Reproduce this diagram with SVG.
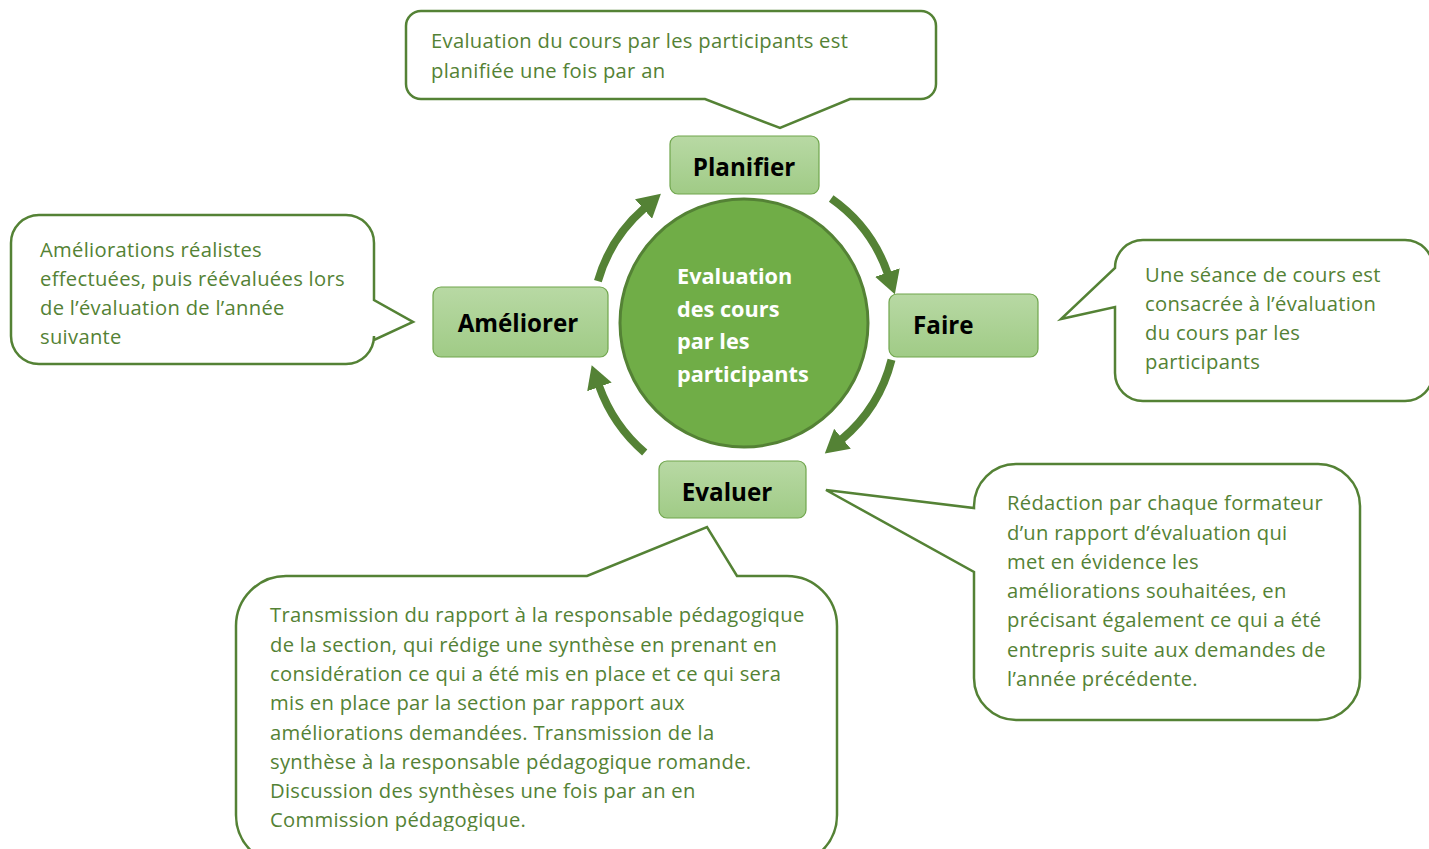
<svg xmlns="http://www.w3.org/2000/svg" width="1429" height="849" viewBox="0 0 1429 849">
<defs>
<linearGradient id="boxg" x1="0" y1="0" x2="0" y2="1">
<stop offset="0" stop-color="#b8d9a4"/>
<stop offset="1" stop-color="#a0cb86"/>
</linearGradient>
<marker id="ah" markerUnits="userSpaceOnUse" markerWidth="24" markerHeight="26" viewBox="0 0 24 26" refX="1" refY="13" orient="auto">
<path d="M0,0 L23,13 L0,26 z" fill="#548235"/>
</marker>
<clipPath id="bclip"><rect x="0" y="0" width="1429" height="831"/></clipPath>
</defs>
<style>
.callout{fill:#ffffff;stroke:#548235;stroke-width:2.5;stroke-linejoin:miter}
.ct{font-family:"Open Sans","Noto Sans",sans-serif;font-size:20.2px;letter-spacing:0.3px;fill:#548235}
.box{fill:url(#boxg);stroke:#70a64d;stroke-width:1.2}
.lbl{font-family:"Open Sans","Noto Sans",sans-serif;font-size:24.2px;font-weight:bold;fill:#000000}
.circt{font-family:"Open Sans","Noto Sans",sans-serif;font-size:21.7px;font-weight:bold;fill:#ffffff}
.arc{fill:none;stroke:#548235;stroke-width:8;marker-end:url(#ah)}
</style>
<rect width="1429" height="849" fill="#ffffff"/>

<g id="callout-planifier">
<path class="callout" d="M421,11 H921 A15,15 0 0 1 936,26 V84 A15,15 0 0 1 921,99 H850 L780,128 L705,99 H421 A15,15 0 0 1 406,84 V26 A15,15 0 0 1 421,11 Z"/>
<text class="ct" x="431" y="48">Evaluation du cours par les participants est</text>
<text class="ct" x="431" y="78">planifiée une fois par an</text>
</g>

<g id="callout-ameliorer">
<path class="callout" d="M39,215 H346 A28,28 0 0 1 374,243 V300 L413,322 L374,340 V336 A28,28 0 0 1 346,364 H39 A28,28 0 0 1 11,336 V243 A28,28 0 0 1 39,215 Z"/>
<text class="ct" x="40" y="257">Améliorations réalistes</text>
<text class="ct" x="40" y="286">effectuées, puis réévaluées lors</text>
<text class="ct" x="40" y="315">de l’évaluation de l’année</text>
<text class="ct" x="40" y="344">suivante</text>
</g>

<g id="callout-faire">
<path class="callout" d="M1143,240 H1405 A28,28 0 0 1 1433,268 V373 A28,28 0 0 1 1405,401 H1143 A28,28 0 0 1 1115,373 V307 L1061,319 L1115,268 A28,28 0 0 1 1143,240 Z"/>
<text class="ct" x="1145" y="282">Une séance de cours est</text>
<text class="ct" x="1145" y="311">consacrée à l’évaluation</text>
<text class="ct" x="1145" y="340">du cours par les</text>
<text class="ct" x="1145" y="369">participants</text>
</g>

<g id="callout-evaluer-redaction">
<path class="callout" d="M1016,464 H1318 A42,42 0 0 1 1360,506 V678 A42,42 0 0 1 1318,720 H1016 A42,42 0 0 1 974,678 V572 L826,490 L974,508 V506 A42,42 0 0 1 1016,464 Z"/>
<text class="ct" x="1007" y="510">Rédaction par chaque formateur</text>
<text class="ct" x="1007" y="540">d’un rapport d’évaluation qui</text>
<text class="ct" x="1007" y="569">met en évidence les</text>
<text class="ct" x="1007" y="598">améliorations souhaitées, en</text>
<text class="ct" x="1007" y="627">précisant également ce qui a été</text>
<text class="ct" x="1007" y="657">entrepris suite aux demandes de</text>
<text class="ct" x="1007" y="686">l’année précédente.</text>
</g>

<g id="callout-evaluer-transmission">
<path class="callout" d="M286,576 H587 L707,527 L737,576 H787 A50,50 0 0 1 837,626 V815 A50,50 0 0 1 787,865 H286 A50,50 0 0 1 236,815 V626 A50,50 0 0 1 286,576 Z"/>
<g clip-path="url(#bclip)">
<text class="ct" x="270" y="622">Transmission du rapport à la responsable pédagogique</text>
<text class="ct" x="270" y="652">de la section, qui rédige une synthèse en prenant en</text>
<text class="ct" x="270" y="681">considération ce qui a été mis en place et ce qui sera</text>
<text class="ct" x="270" y="710">mis en place par la section par rapport aux</text>
<text class="ct" x="270" y="740">améliorations demandées. Transmission de la</text>
<text class="ct" x="270" y="769">synthèse à la responsable pédagogique romande.</text>
<text class="ct" x="270" y="798">Discussion des synthèses une fois par an en</text>
<text class="ct" x="270" y="827">Commission pédagogique.</text>
</g>
</g>

<g id="connectors">
<path class="arc" d="M597.9,281.1 A152,152 0 0 1 644.3,208.3"/>
<path class="arc" d="M831.2,198.5 A152,152 0 0 1 887.7,273.5"/>
<path class="arc" d="M891.5,359.8 A152,152 0 0 1 841.7,439.4"/>
<path class="arc" d="M644.7,452.5 A158,158 0 0 1 599.1,386"/>
</g>

<g id="center">
<circle cx="744" cy="323" r="124" fill="#70ad47" stroke="#548235" stroke-width="3"/>
<text class="circt" x="677" y="284">Evaluation</text>
<text class="circt" x="677" y="317">des cours</text>
<text class="circt" x="677" y="349">par les</text>
<text class="circt" x="677" y="382">participants</text>
</g>

<g id="planifier">
<rect class="box" x="670" y="136" width="149" height="58" rx="8"/>
<text class="lbl" x="744" y="176" text-anchor="middle">Planifier</text>
</g>

<g id="faire">
<rect class="box" x="889" y="294" width="149" height="63" rx="8"/>
<text class="lbl" x="913" y="334">Faire</text>
</g>

<g id="evaluer">
<rect class="box" x="659" y="461" width="147" height="57" rx="8"/>
<text class="lbl" x="727" y="501" text-anchor="middle">Evaluer</text>
</g>

<g id="ameliorer">
<rect class="box" x="433" y="287" width="175" height="70" rx="8"/>
<text class="lbl" x="518" y="332" text-anchor="middle">Améliorer</text>
</g>
</svg>
